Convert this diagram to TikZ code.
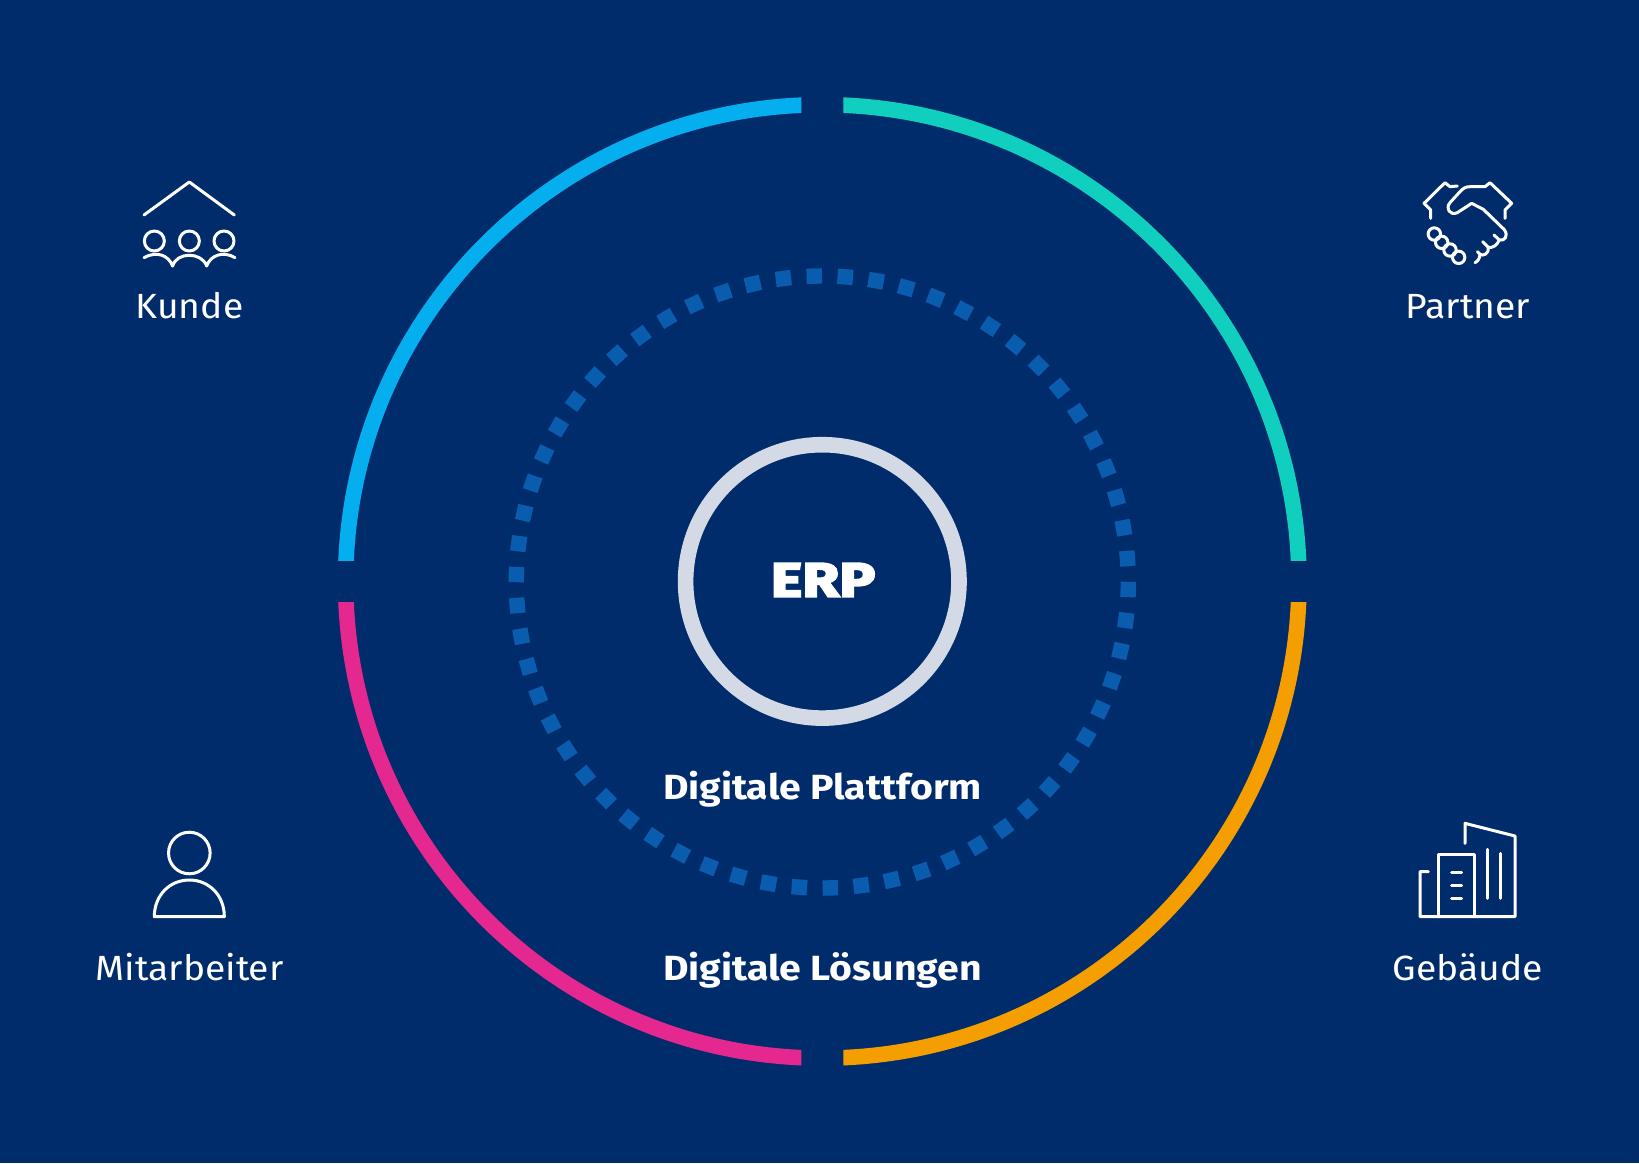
\documentclass[tikz,border=0pt]{standalone}
\usepackage{fontspec}
\setmainfont[BoldFont={Fira Sans Bold},BoldFeatures={FakeStretch=1.12}]{Fira Sans}[FakeStretch=1.065]
\newfontfamily\erpfont[FakeBold=4.5,FakeStretch=1.25]{Fira Sans Bold}
\definecolor{bg}{HTML}{012C6B}
\definecolor{dotblue}{HTML}{0A5DAE}
\definecolor{ringgrey}{HTML}{D3DAE5}
\definecolor{arcblue}{HTML}{05AEEF}
\definecolor{arcteal}{HTML}{10CFBE}
\definecolor{arcpink}{HTML}{E5288F}
\definecolor{arcorange}{HTML}{F59E00}
\tikzset{
  x=1pt,y=1pt,
  ringarc/.style={line width=15.6pt},
  label/.style={text=white,font=\fontsize{35}{35}\selectfont,inner sep=0pt,anchor=base},
  blabel/.style={text=white,font=\fontsize{35}{35}\selectfont\bfseries,inner sep=0pt,anchor=base},
  icon/.style={x=.33333pt,y=-.33333pt,draw=white,line width=3pt,line cap=round,line join=round},
}
\begin{document}
\begin{tikzpicture}
\useasboundingbox (0,0) rectangle (1639,-1163);
\fill[bg] (0,0) rectangle (1639,-1163);
\coordinate (c) at (822.3,-581.4);
\coordinate (d) at (822.3,-582);
% outer quadrants
\begin{scope}\clip (0,0) rectangle (801.3,-560);
\draw[arcblue,ringarc] (c) circle[radius=476.7pt];\end{scope}
\begin{scope}\clip (843.3,0) rectangle (1639,-560);
\draw[arcteal,ringarc] (c) circle[radius=476.7pt];\end{scope}
\begin{scope}\clip (0,-602) rectangle (801.3,-1163);
\draw[arcpink,ringarc] (c) circle[radius=476.7pt];\end{scope}
\begin{scope}\clip (843.3,-602) rectangle (1639,-1163);
\draw[arcorange,ringarc] (c) circle[radius=476.7pt];\end{scope}
% dotted ring
\foreach \i in {0,...,61}{
  \pgfmathsetmacro{\a}{91.5+\i*5.80645}
  \fill[dotblue,shift={(d)},rotate=\a] (306pt-7.7pt,-7.7pt) rectangle (306pt+7.7pt,7.7pt);
}
% centre
\node[circle,draw=ringgrey,line width=15.6pt,minimum size=273.4pt,inner sep=0pt] (erp) at (c) {};
\node[text=white,font=\erpfont\fontsize{48}{48}\selectfont,inner sep=0pt] (erptext) at (823,-580) {ERP};
% labels
\node[blabel] (plat) at (822.5,-799) {Digitale Plattform};
\node[blabel] (loes) at (822.5,-980) {Digitale Lösungen};
\node[label] (kunde) at (189.5,-318.5) {Kunde};
\node[label] (partner) at (1468,-318.5) {Partner};
\node[label] (mit) at (189.7,-980) {Mitarbeiter};
\node[label] (geb) at (1467.6,-980) {Gebäude};
% Kunde icon
\begin{scope}[shift={(120,-160)},icon]
\draw (72,165)--(208,66)--(343,165);
\foreach \cx in {103,208,312}{\draw (\cx,243) circle[radius=10pt];}
\draw (72,293) .. controls (110,272) and (145,285) .. (158,318)
  .. controls (170,275) and (245,275) .. (260,318)
  .. controls (272,285) and (310,272) .. (345,293);
\end{scope}
% Partner icon
\begin{scope}[shift={(1400,-160)},icon]
\draw (92,175)--(92,150)--(72,130)--(135,68)--(150,80)--(172,78);
\draw (315,175)--(315,150)--(335,130)--(270,68)--(255,80)--(212,80)
  .. controls (195,80) and (190,85) .. (180,95)--(150,128)
  .. controls (135,145) and (150,168) .. (172,158)--(215,130)--(250,148)--(312,208)
  .. controls (328,228) and (312,245) .. (298,240) -- (282,225);
\draw (298,240) .. controls (292,255) and (278,265) .. (265,262) -- (248,245);
\draw (265,262) .. controls (268,280) and (250,290) .. (240,283) -- (232,275);
\draw (240,283) .. controls (240,295) and (232,305) .. (225,308);
\foreach \px/\py in {103/222,125/247,150/270,176/292}{\draw (\px,\py) circle[radius=6.2pt];}
\end{scope}
% Mitarbeiter icon
\begin{scope}[shift={(130,-810)},icon]
\draw (178,129) circle[radius=20.8pt];
\draw (73,320) .. controls (73,255) and (120,210) .. (178,210) .. controls (236,210) and (283,255) .. (283,320) -- cycle;
\end{scope}
% Gebaeude icon
\begin{scope}[shift={(1400,-810)},icon]
\draw (195,100)--(195,40)--(345,78)--(345,320)--(60,320)--(60,185)--(85,185);
\draw (115,320)--(115,132)--(222,132)--(222,320);
\draw (155,186)--(185,186) (155,226)--(185,226) (155,265)--(185,265);
\draw (261,118)--(261,265) (301,130)--(301,265);
\end{scope}
\end{tikzpicture}
\end{document}
